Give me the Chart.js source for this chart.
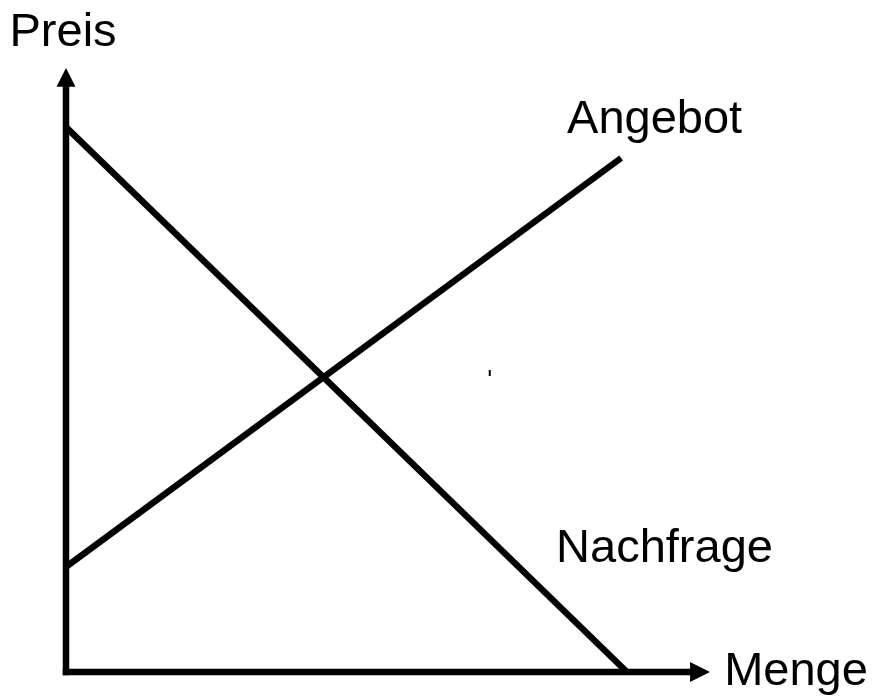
<!DOCTYPE html>
<html>
<head>
<meta charset="utf-8">
<script src="https://cdn.jsdelivr.net/npm/chart.js@4"></script>
<style>
  html, body { margin: 0; padding: 0; background: #ffffff; }
  #c { display: block; }
</style>
</head>
<body>
<canvas id="c" width="875" height="696"></canvas>
<script>
// ---- data (in axis units: Menge 0..10, Preis 0..10) ----
const demandQ = [0, 8.71];
const demandP = [9.02, 0];
const supplyQ = [0, 8.62];
const supplyP = [1.74, 8.51];
const axisQ = [0, 9.69];          // horizontal axis line (to arrow base)
const axisP = [0, 9.69];          // vertical axis line (to arrow base)
const markQ = [6.58, 6.58];       // small stray tick
const markP = [4.90, 5.00];
const labels = ['Preis', 'Angebot', 'Nachfrage', 'Menge'];
const labelQ = [-0.877, 7.78, 7.61, 10.22];
const labelP = [10.37, 8.92, 1.82, -0.215];

function pts(xs, ys) { return xs.map((x, i) => ({ x: x, y: ys[i] })); }

const arrowPlugin = {
  id: 'arrows',
  afterDatasetsDraw(chart) {
    const { ctx, scales: { x, y } } = chart;
    ctx.save();
    ctx.fillStyle = '#000';
    // vertical axis arrow
    const x0 = x.getPixelForValue(0);
    const yTip = y.getPixelForValue(10);
    const yBase = y.getPixelForValue(axisP[1]);
    ctx.beginPath();
    ctx.moveTo(x0, yTip);
    ctx.lineTo(x0 - 9.5, yBase);
    ctx.lineTo(x0 + 9.5, yBase);
    ctx.closePath();
    ctx.fill();
    // horizontal axis arrow
    const y0 = y.getPixelForValue(0);
    const xTip = x.getPixelForValue(10);
    const xBase = x.getPixelForValue(axisQ[1]);
    ctx.beginPath();
    ctx.moveTo(xTip, y0);
    ctx.lineTo(xBase, y0 - 10);
    ctx.lineTo(xBase, y0 + 10);
    ctx.closePath();
    ctx.fill();
    // labels
    ctx.font = '47px "Liberation Sans", Arial, sans-serif';
    ctx.textAlign = 'left';
    ctx.textBaseline = 'alphabetic';
    labels.forEach((t, i) => {
      ctx.fillText(t, x.getPixelForValue(labelQ[i]), y.getPixelForValue(labelP[i]));
    });
    ctx.restore();
  }
};

const lineStyle = {
  showLine: true, pointRadius: 0, borderColor: '#000', backgroundColor: '#000',
  borderWidth: 6.5, tension: 0, fill: false, clip: false, borderCapStyle: 'butt'
};

new Chart(document.getElementById('c'), {
  type: 'scatter',
  data: {
    datasets: [
      Object.assign({ label: 'Achse Menge', data: pts(axisQ, [0, 0]) }, lineStyle, { borderCapStyle: 'square' }),
      Object.assign({ label: 'Achse Preis', data: pts([0, 0], axisP) }, lineStyle, { borderCapStyle: 'square' }),
      Object.assign({ label: 'Nachfrage', data: pts(demandQ, demandP) }, lineStyle),
      Object.assign({ label: 'Angebot', data: pts(supplyQ, supplyP) }, lineStyle),
      Object.assign({ label: 'mark', data: pts(markQ, markP) }, lineStyle, { borderWidth: 2 })
    ]
  },
  options: {
    responsive: false,
    animation: false,
    layout: { padding: { left: 66, right: 165, top: 68, bottom: 24 } },
    scales: {
      x: { type: 'linear', min: 0, max: 10, display: false },
      y: { type: 'linear', min: 0, max: 10, display: false }
    },
    plugins: { legend: { display: false }, tooltip: { enabled: false } }
  },
  plugins: [arrowPlugin]
});
</script>
</body>
</html>
